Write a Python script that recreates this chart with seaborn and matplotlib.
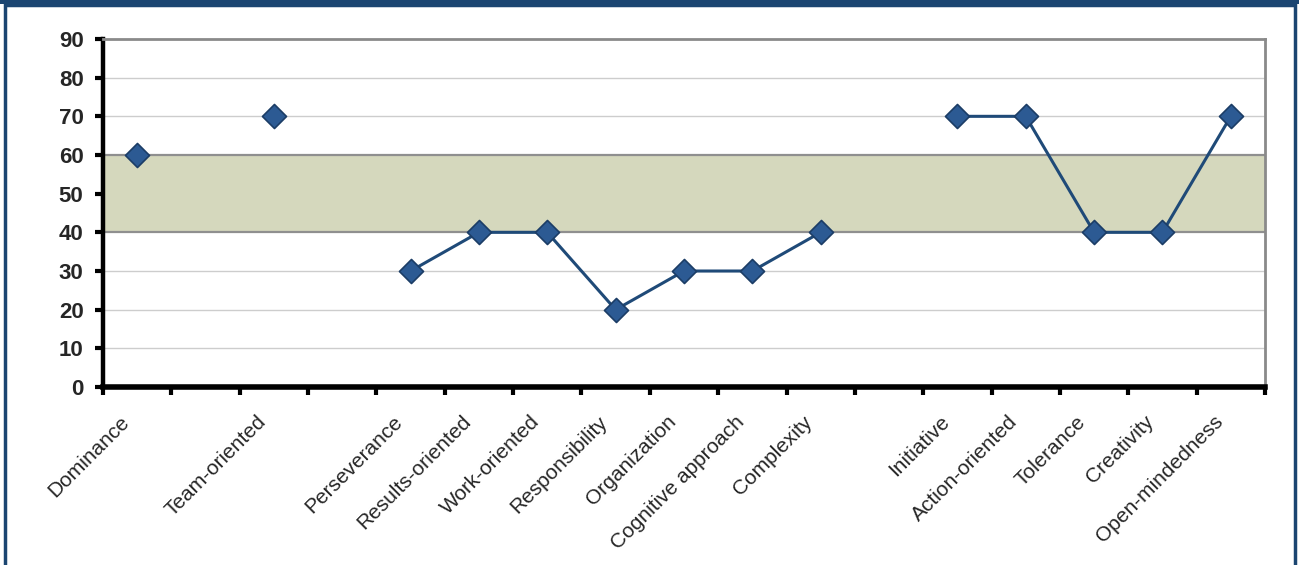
import numpy as np
import pandas as pd
import matplotlib
matplotlib.use("Agg")
import matplotlib.pyplot as plt
from matplotlib.patches import Rectangle
import seaborn as sns

# Category slots along the x axis (empty strings are spacer slots)
categories = ["Dominance", "", "Team-oriented", "", "Perseverance", "Results-oriented",
              "Work-oriented", "Responsibility", "Organization", "Cognitive approach",
              "Complexity", "", "Initiative", "Action-oriented", "Tolerance",
              "Creativity", "Open-mindedness"]
scores = [60, np.nan, 70, np.nan, 30, 40, 40, 20, 30, 30, 40, np.nan, 70, 70, 40, 40, 70]
band_low, band_high = 40, 60
y_ticks = [0, 10, 20, 30, 40, 50, 60, 70, 80, 90]

df = pd.DataFrame({"pos": np.arange(len(categories)), "score": scores, "label": categories})
# contiguous runs of scored categories form separate line segments
df["segment"] = df["score"].isna().cumsum()
pts = df.dropna(subset=["score"])

sns.set_style("white")
plt.rcParams["font.family"] = ["Liberation Sans", "DejaVu Sans"]

fig = plt.figure(figsize=(12.99, 5.65), dpi=100)
ax = fig.add_axes([0.0793, 0.315, 0.9738 - 0.0793, 0.931 - 0.315])

# norm band
ax.axhspan(band_low, band_high, color="#d5d8bd", zorder=0.5, lw=0)
for yv in (band_low, band_high):
    ax.axhline(yv, color="#8f8f8f", lw=1.6, zorder=0.8)

# horizontal gridlines
for yv in y_ticks[1:-1]:
    if yv not in (band_low, band_high):
        ax.axhline(yv, color="#cdcdcd", lw=1.0, zorder=0.3)

line_color = "#1f4a78"
sns.lineplot(data=pts, x="pos", y="score", units="segment", estimator=None,
             color=line_color, lw=2.2, ax=ax, zorder=3, sort=False)
sns.scatterplot(data=pts, x="pos", y="score", marker="D", s=150, color="#2c5a93",
                edgecolor="#1c3d66", linewidth=1.2, ax=ax, zorder=4)

ax.set_xlim(-0.5, len(categories) - 0.5)
ax.set_ylim(0, 90)
ax.set_xlabel("")
ax.set_ylabel("")

ax.set_yticks(y_ticks)
ax.set_yticklabels([str(v) for v in y_ticks], fontsize=16, fontweight="bold")

# boundary ticks between categories; labels sit on invisible minor ticks,
# nudged left so the rotated text ends just left of each slot centre
ax.set_xticks(np.arange(len(categories) + 1) - 0.5)
ax.set_xticklabels([])
ax.set_xticks(np.arange(len(categories)) - 0.26, minor=True)
ax.set_xticklabels(categories, minor=True, rotation=45, ha="right",
                   rotation_mode="anchor", fontsize=15)

ax.tick_params(axis="y", which="major", direction="out", length=6, width=3,
               color="black", pad=8, left=True)
ax.tick_params(axis="x", which="major", direction="out", length=6, width=3,
               color="black", bottom=True)
ax.tick_params(axis="x", which="minor", length=0, pad=18, bottom=True)

for side in ("left", "bottom"):
    ax.spines[side].set_color("black")
ax.spines["left"].set_linewidth(3.2)
ax.spines["bottom"].set_linewidth(4)
for side in ("top", "right"):
    ax.spines[side].set_color("#8a8a8a")
    ax.spines[side].set_linewidth(2)

# outer frame of the panel
fig.patches.append(Rectangle((0.0035, -0.02), 0.9935, 1.012, transform=fig.transFigure,
                             fill=False, edgecolor="#1b4571", lw=2.5, zorder=10))
fig.patches.append(Rectangle((0.0, 0.993), 1.0, 0.01, transform=fig.transFigure,
                             facecolor="#1b4571", edgecolor="none", zorder=10))

fig.savefig("out.png", dpi=100, facecolor="white")
